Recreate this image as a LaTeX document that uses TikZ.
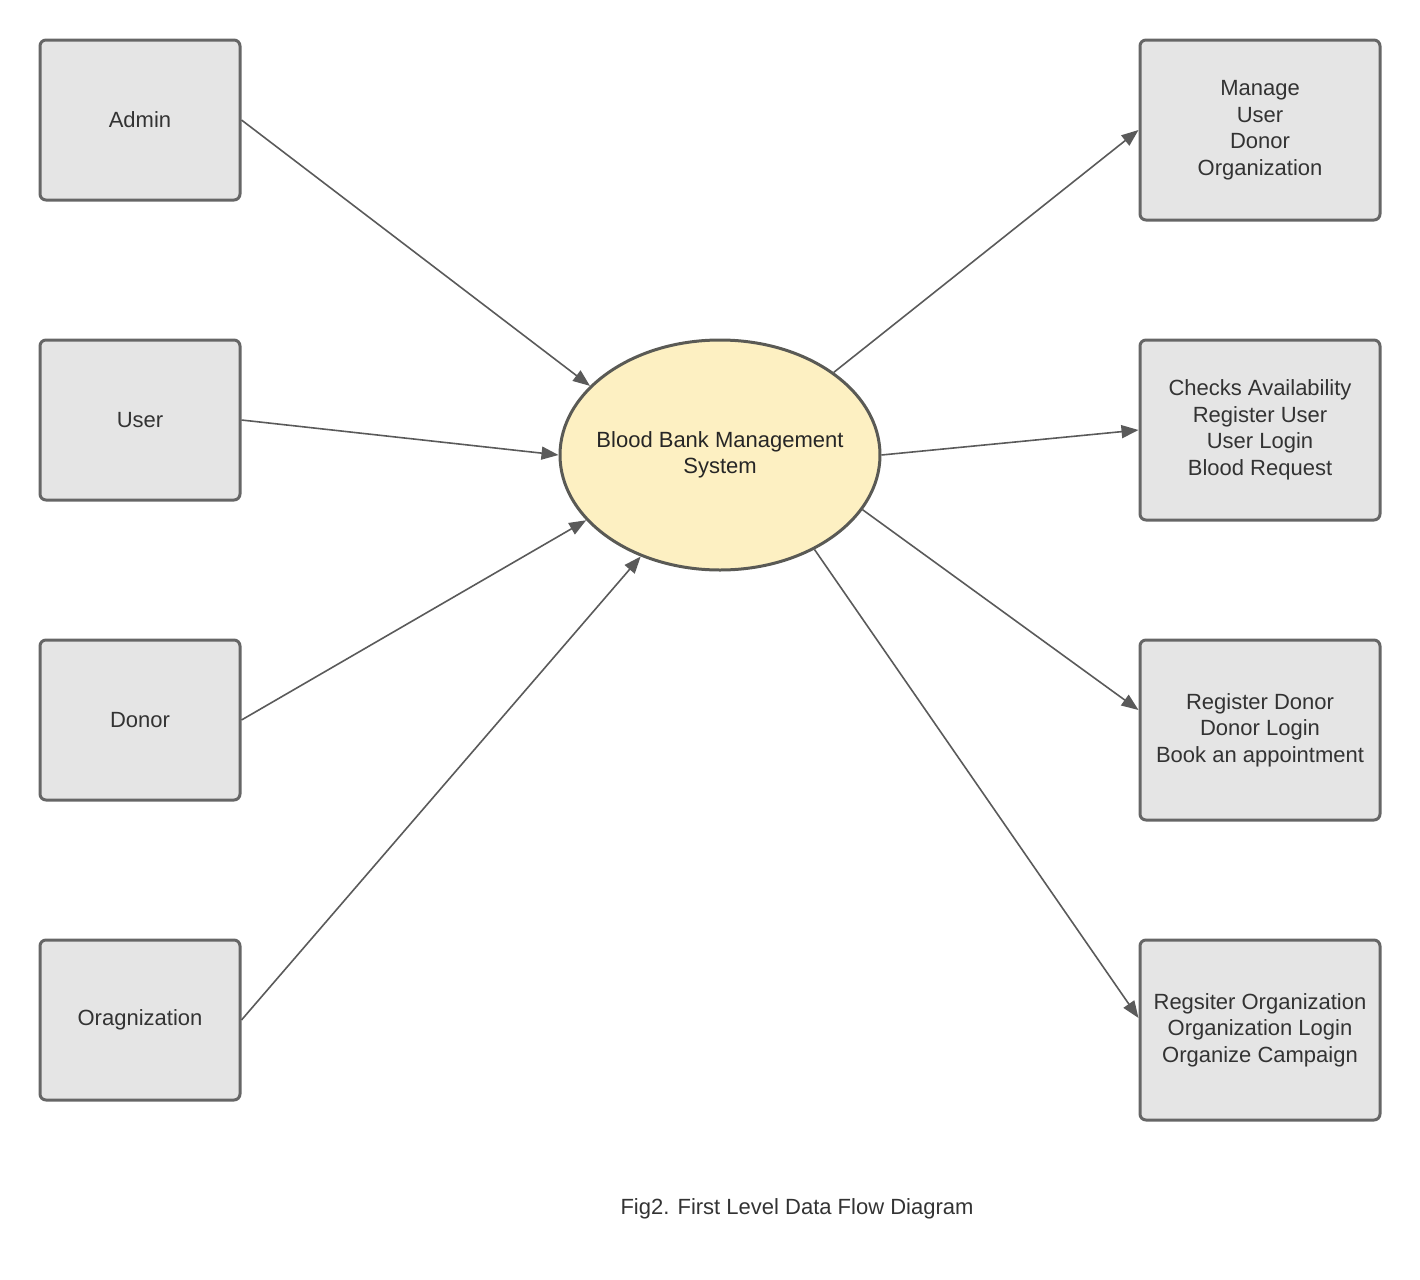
\documentclass[tikz,border=0pt]{standalone}
\usepackage{fontspec}
\setmainfont{Liberation Sans}
\usetikzlibrary{arrows.meta,shapes.geometric,calc}
\definecolor{boxfill}{HTML}{E5E5E5}
\definecolor{boxline}{HTML}{666666}
\definecolor{ellfill}{HTML}{FDF0C2}
\definecolor{ellline}{HTML}{5A5A55}
\definecolor{flowline}{HTML}{5A5A5A}
\definecolor{txt}{HTML}{333333}
\begin{document}
\begin{tikzpicture}[x=0.5pt,y=-0.5pt,
  entity/.style={draw=boxline,fill=boxfill,line width=1.5pt,rounded corners=3pt,
    minimum width=100pt,minimum height=80pt,inner sep=0pt,align=center,
    text=txt,font=\fontsize{11}{13.25}\selectfont},
  outbox/.style={entity,minimum width=120pt,minimum height=90pt},
  process/.style={ellipse,draw=ellline,fill=ellfill,line width=1.5pt,
    minimum width=160pt,minimum height=115pt,inner xsep=-7pt,inner ysep=0pt,
    align=center,text=black!85,font=\fontsize{11}{13.25}\selectfont},
  flow/.style={draw=flowline,line width=0.8pt,
    -{Triangle[length=8.5pt,width=6.5pt]}}]
\useasboundingbox (0,0) rectangle (1420,1280);

% external entities
\node[entity] (admin) at (140,120) {Admin};
\node[entity] (user)  at (140,420) {User};
\node[entity] (donor) at (140,720) {Donor};
\node[entity] (org)   at (140,1020) {Oragnization};

% central process
\node[process] (bbms) at (720,455) {Blood Bank Management\\System};

% functions
\node[outbox] (f1) at (1260,130)  {Manage\\User\\Donor\\Organization};
\node[outbox] (f2) at (1260,430)  {Checks Availability\\Register User\\User Login\\Blood Request};
\node[outbox] (f3) at (1260,730)  {Register Donor\\Donor Login\\Book an appointment};
\node[outbox] (f4) at (1260,1030) {Regsiter Organization\\Organization Login\\Organize Campaign};

% incoming flows
\draw[flow] (admin.east) -- (bbms.152.4);
\draw[flow] (user.east)  -- (bbms.180);
\draw[flow] (donor.east) -- (bbms.206.2);
\draw[flow] (org.east)   -- (bbms.232.6);

% outgoing flows
\draw[flow] (bbms.36)    -- (f1.west);
\draw[flow] (bbms.0)     -- (f2.west);
\draw[flow] (bbms.-21.8) -- ($(f3.west)+(0,-20)$);
\draw[flow] (bbms.-45.9) -- ($(f4.west)+(0,-12)$);

% caption
\node[text=txt,font=\fontsize{11}{13.25}\selectfont] (cap) at (797,1209)
  {Fig2. First Level Data Flow Diagram};
\end{tikzpicture}
\end{document}
